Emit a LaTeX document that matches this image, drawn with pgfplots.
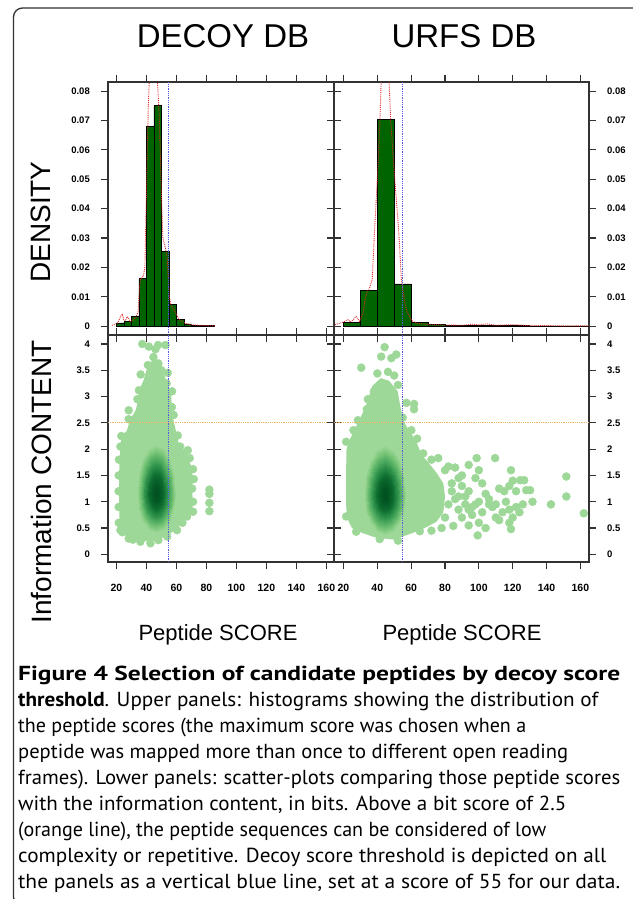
\documentclass[border=0pt]{standalone}
\usepackage{graphicx}
\usepackage{pgfplots}
\pgfplotsset{compat=1.18}
\usepackage{pgfplotstable}
\usepackage{fontspec}
\setmainfont{Liberation Sans}
\newfontfamily\capfont{PT Sans}

\definecolor{bar}{RGB}{0,100,0}
\definecolor{pt}{RGB}{158,216,152}
\definecolor{thr}{RGB}{90,90,225}
\definecolor{ic}{RGB}{240,180,100}
\definecolor{dens}{RGB}{225,40,40}
\definecolor{frame}{RGB}{50,50,50}

% density core of the scatter panels: rings of an ellipse (u, v) with relative density w
\pgfplotstableread{
u v w
0 0 1
0 0 1
0 0 1
0 0 1
0 0 1
0 0 1
0 0 1
0 0 1
0 0 1
0 0 1
0 0 1
0 0 1
0 0 1
0 0 1
0 0 1
0 0 1
0 0 1
0.2 0 0.95
0.185 0.077 0.95
0.141 0.141 0.95
0.077 0.185 0.95
0 0.2 0.95
-0.077 0.185 0.95
-0.141 0.141 0.95
-0.185 0.077 0.95
-0.2 0 0.95
-0.185 -0.077 0.95
-0.141 -0.141 0.95
-0.077 -0.185 0.95
0 -0.2 0.95
0.077 -0.185 0.95
0.141 -0.141 0.95
0.185 -0.077 0.95
0.2 0 0.95
0.4 0 0.85
0.370 0.153 0.85
0.283 0.283 0.85
0.153 0.370 0.85
0 0.4 0.85
-0.153 0.370 0.85
-0.283 0.283 0.85
-0.370 0.153 0.85
-0.4 0 0.85
-0.370 -0.153 0.85
-0.283 -0.283 0.85
-0.153 -0.370 0.85
0 -0.4 0.85
0.153 -0.370 0.85
0.283 -0.283 0.85
0.370 -0.153 0.85
0.4 0 0.85
0.6 0 0.62
0.554 0.230 0.62
0.424 0.424 0.62
0.230 0.554 0.62
0 0.6 0.62
-0.230 0.554 0.62
-0.424 0.424 0.62
-0.554 0.230 0.62
-0.6 0 0.62
-0.554 -0.230 0.62
-0.424 -0.424 0.62
-0.230 -0.554 0.62
0 -0.6 0.62
0.230 -0.554 0.62
0.424 -0.424 0.62
0.554 -0.230 0.62
0.6 0 0.62
0.8 0 0.33
0.739 0.306 0.33
0.566 0.566 0.33
0.306 0.739 0.33
0 0.8 0.33
-0.306 0.739 0.33
-0.566 0.566 0.33
-0.739 0.306 0.33
-0.8 0 0.33
-0.739 -0.306 0.33
-0.566 -0.566 0.33
-0.306 -0.739 0.33
0 -0.8 0.33
0.306 -0.739 0.33
0.566 -0.566 0.33
0.739 -0.306 0.33
0.8 0 0.33
1 0 0
0.924 0.383 0
0.707 0.707 0
0.383 0.924 0
0 1 0
-0.383 0.924 0
-0.707 0.707 0
-0.924 0.383 0
-1 0 0
-0.924 -0.383 0
-0.707 -0.707 0
-0.383 -0.924 0
0 -1 0
0.383 -0.924 0
0.707 -0.707 0
0.924 -0.383 0
1 0 0
}\coretab

\pgfplotsset{
  box/.style={scale only axis, xmin=14.4, xmax=165.1, clip=true},
  panel/.style={box,
    axis line style={frame, line width=1.1pt},
    tick align=outside, major tick length=7pt,
    every tick/.style={frame, line width=1.1pt},
    xtick={20,40,60,80,100,120,140,160},
    xticklabel style={font=\fontsize{10.5}{10.5}\selectfont\bfseries, inner sep=0pt},
    yticklabel style={font=\fontsize{9.5}{9.5}\selectfont\bfseries, inner sep=0pt},
    xticklabel shift=15pt, yticklabel shift=11pt,
    scaled ticks=false,
  },
  toprow/.style={panel, ymin=-0.003, ymax=0.0831, height=253pt,
    ytick={0,0.01,0.02,0.03,0.04,0.05,0.06,0.07,0.08},
    yticklabels={0,0.01,0.02,0.03,0.04,0.05,0.06,0.07,0.08},
    xticklabels={}},
  lowbox/.style={box, ymin=-0.146, ymax=4.171, height=227pt},
  lowrow/.style={panel, lowbox,
    ytick={0,0.5,1,1.5,2,2.5,3,3.5,4},
    yticklabels={0,0.5,1,1.5,2,2.5,3,3.5,4},
    xticklabels={20,40,60,80,100,120,140,160}},
  core/.style={lowbox, hide axis, view={0}{90},
    colormap={greens}{rgb255(0cm)=(158,216,152); rgb255(2.5cm)=(118,196,118);
      rgb255(5cm)=(72,167,92); rgb255(7.5cm)=(30,130,62);
      rgb255(9cm)=(8,100,42); rgb255(10cm)=(0,78,30)},
    point meta min=0, point meta max=1},
}

\begin{document}
\begin{tikzpicture}
\useasboundingbox (0,0) rectangle (632pt,-899pt);
\fill[white] (0,0) rectangle (632pt,-899pt);
\draw[frame, line width=1.3pt, rounded corners=9pt] (13.5pt,-8pt) rectangle (660pt,-906pt);

% ---------- upper left: DECOY histogram
\begin{axis}[toprow, at={(108pt,-82pt)}, anchor=north west, width=226pt]
\addplot[ybar interval, fill=bar, draw=black, line width=0.6pt] coordinates {
(20,0.0011) (25,0.0016) (30,0.0033) (35,0.0162) (40,0.0679) (45,0.0751)
(50,0.0254) (55,0.0073) (60,0.0022) (65,0.0008) (70,0.0003) (75,0.0002)
(80,0.0002) (85,0)};
\addplot[dens, densely dotted, line width=0.9pt] coordinates {
(17,0.0003) (19,0.0006) (21,0.0012) (23,0.0035) (24,0.004) (25,0.002) (26,0.0018)
(27,0.0032) (28,0.003) (29,0.0015) (31,0.002) (33,0.003) (34.5,0.005) (35.3,0.012)
(36,0.016) (38,0.017) (39,0.02) (39.8,0.04) (40.6,0.06) (41.3,0.075) (42,0.085)
(44.5,0.1) (47.2,0.085) (48.5,0.072) (49.5,0.055) (50.3,0.04) (51,0.03) (52.5,0.027)
(53.7,0.024) (54.5,0.017) (55.3,0.01) (56.5,0.007) (58,0.006) (60,0.004) (62,0.0022)
(64,0.0015) (66,0.001) (70,0.0005) (75,0.0003) (80,0.0002) (86,0.0001)};
\addplot[thr, densely dotted, line width=0.8pt] coordinates {(55,-0.003) (55,0.0831)};
\end{axis}

% ---------- upper right: URFS histogram
\begin{axis}[toprow, at={(334pt,-82pt)}, anchor=north west, width=255pt, yticklabel pos=right]
\addplot[ybar interval, fill=bar, draw=black, line width=0.6pt] coordinates {
(20,0.0014) (30,0.0121) (40,0.0704) (50,0.0144) (60,0.0014) (70,0.0006)
(80,0.0003) (90,0.0003) (100,0.0004) (110,0.0002) (120,0.0002) (130,0.0001)
(140,0.0001) (150,0.0001) (160,0.0001) (170,0)};
\addplot[dens, densely dotted, line width=0.9pt] coordinates {
(15,0.0005) (20,0.0014) (22.6,0.0022) (24,0.0015) (25.5,0.002) (27.5,0.0033)
(29.5,0.0016) (31.5,0.0044) (33.4,0.011) (35.4,0.013) (37,0.016) (38.4,0.033)
(40,0.05) (41.4,0.067) (42.3,0.084) (44.5,0.1) (46.9,0.084) (47.9,0.07) (50.3,0.05)
(52.6,0.033) (54.2,0.016) (56.2,0.008) (57.6,0.005) (60.1,0.002) (63.1,0.001)
(71,0.0005) (80,0.0004) (90,0.0003) (96.7,0.0007) (100,0.0004) (104.6,0.0008)
(110,0.0003) (120.5,0.0005) (130,0.0002) (140,0.0002) (150,0.0001) (165,0.0001)};
\addplot[thr, densely dotted, line width=0.8pt] coordinates {(55,-0.003) (55,0.0831)};
\end{axis}

% ---------- lower left: DECOY scatter
\begin{axis}[lowbox, hide axis, at={(108pt,-335pt)}, anchor=north west, width=226pt]
\addplot[fill=pt, draw=none] coordinates {
(40,3.5) (44.5,3.72) (48.5,3.6) (52,3.4) (54,3.25) (56.5,3.05) (57,2.75) (58,2.55)
(60.5,2.25) (62,2.05) (67,1.95) (68.5,1.8) (70.5,1.6) (71,1.4) (70.5,1.2) (71,1.0)
(70.5,0.8) (67,0.72) (64,0.6) (60,0.48) (54,0.36) (48,0.28) (43,0.24) (36,0.26)
(31,0.3) (27,0.33) (23,0.46) (22,0.7) (21.8,1.0) (21.8,1.4) (22,1.8) (22.8,2.05)
(23.5,2.25) (27,2.35) (29,2.55) (33,2.75) (34.5,2.95) (35.5,3.15) (38,3.3)};
\addplot[only marks, mark=*, mark size=4pt, color=pt] coordinates {
(37.3,4.0) (41.6,3.95) (47.8,3.98) (52.7,3.98) (44.7,3.75) (48,3.63) (36.2,3.42)
(54.2,3.45) (53.5,3.25) (35,3.12) (34,2.95) (57.1,3.1) (57,2.8) (28.2,2.74)
(28.2,2.57) (58.2,2.65) (23.3,2.25) (60.9,2.26) (22.7,2.05) (62.5,2.05) (67.6,1.98)
(68.9,1.83) (71.1,1.62) (71.6,1.43) (70.5,1.25) (71.1,1.0) (71.1,0.81) (67.1,0.72)
(64,0.6) (60.4,0.46) (53.8,0.34) (48,0.27) (42.7,0.21) (36,0.24) (31,0.28) (28.2,0.3)
(24,0.42) (22.7,0.46) (21.6,0.6) (21.5,0.9) (21.5,1.2) (21.5,1.5) (21.7,1.8)
(82,1.23) (82,1.15) (82,0.98) (82,0.82) (41,3.6) (50,3.5) (46,3.9)};
\end{axis}
\begin{axis}[core, at={(108pt,-335pt)}, anchor=north west, width=226pt]
\addplot3[surf, shader=interp, mesh/rows=6, mesh/cols=17]
  table[x expr={46.5+13*\thisrow{u}}, y expr={1.15+\thisrow{v}*(\thisrow{v}>0 ? 0.95 : 0.75)}, z=w] {\coretab};
\end{axis}
\begin{axis}[lowrow, at={(108pt,-335pt)}, anchor=north west, width=226pt]
\addplot[ic, densely dotted, line width=0.8pt] coordinates {(14.4,2.5) (165.1,2.5)};
\addplot[thr, densely dotted, line width=0.8pt] coordinates {(55,-0.146) (55,4.171)};
\end{axis}

% ---------- lower right: URFS scatter
\begin{axis}[lowbox, hide axis, at={(334pt,-335pt)}, anchor=north west, width=255pt]
\addplot[fill=pt, draw=none] coordinates {
(37,3.2) (42,3.35) (47,3.3) (52,3.1) (54,2.75) (56,2.5) (60,2.3) (63,2.15) (66,1.9)
(70,1.75) (75,1.55) (79,1.35) (80,1.1) (79,0.8) (75,0.62) (68,0.5) (62,0.42)
(56,0.35) (50,0.28) (44,0.3) (38,0.33) (30,0.42) (25,0.5) (22,0.7) (21.5,1.0)
(21.5,1.5) (21.8,2.0) (24,2.2) (27,2.4) (30,2.6) (33,2.8) (35,3.0)};
\addplot[only marks, mark=*, mark size=4pt, color=pt] coordinates {
(44.3,3.94) (42.3,3.76) (48.3,3.73) (51.2,3.8) (30.5,3.55) (40,3.44) (46.3,3.47)
(52.2,3.22) (34.4,2.95) (33.8,2.76) (57.2,2.88) (61.7,2.86) (61.7,2.76) (28.5,2.55)
(25.9,2.36) (60.1,2.36) (63.5,2.2) (21.6,2.14) (67.1,1.92) (72,1.8) (76,1.83)
(21.6,0.72) (27.5,0.43) (41.4,0.29) (52.2,0.26) (65.1,0.44) (72,0.45) (78,0.5)
(55,2.6) (50,3.4) (38,3.1)
(80,1.6) (82,1.67) (86,1.65) (88,1.45) (84,1.35) (90,1.3) (92,1.1) (86,1.05)
(82,0.95) (88,0.85) (90,0.7) (84.9,0.54) (94,0.55) (96,0.75) (98,0.95) (94,1.2)
(98,1.45) (98.7,1.83) (94,1.7) (100,1.6) (102,1.35) (104,1.15) (100,1.0) (102,0.8)
(100,0.6) (99.3,0.36) (106,0.95) (108,0.9) (110,0.95) (109.6,1.83) (112,1.25)
(115,1.2) (118,1.3) (119,1.6) (120,1.4) (122,1.2) (124.4,1.41) (126.8,1.41)
(128,1.22) (130.3,1.22) (131.7,1.0) (126,0.95) (122,0.9) (118,0.85) (120,0.7)
(118,0.6) (119,0.48) (114,0.8) (112,0.65) (110,0.7) (104,0.5) (96,0.9) (92,0.95)
(142.6,0.95) (151.7,1.48) (151.7,1.1) (162,0.78) (90,1.5) (84,1.2) (88,1.1)
(80,0.7) (94,0.85) (106,1.05) (124,0.8) (116,1.0)};
\end{axis}
\begin{axis}[core, at={(334pt,-335pt)}, anchor=north west, width=255pt]
\addplot3[surf, shader=interp, mesh/rows=6, mesh/cols=17]
  table[x expr={44.5+12.5*\thisrow{u}}, y expr={1.12+\thisrow{v}*(\thisrow{v}>0 ? 0.95 : 0.75)}, z=w] {\coretab};
\end{axis}
\begin{axis}[lowrow, at={(334pt,-335pt)}, anchor=north west, width=255pt, yticklabel pos=right]
\addplot[ic, densely dotted, line width=0.8pt] coordinates {(14.4,2.5) (165.1,2.5)};
\addplot[thr, densely dotted, line width=0.8pt] coordinates {(55,-0.146) (55,4.171)};
\end{axis}

% ---------- titles and axis labels
\node[anchor=base, font=\fontsize{33}{33}\selectfont] at (223pt,-48pt) {DECOY DB};
\node[anchor=base, font=\fontsize{33}{33}\selectfont] at (464pt,-48pt) {URFS DB};
\node[rotate=90, font=\fontsize{28}{28}\selectfont] at (41pt,-222pt) {DENSITY};
\node[rotate=90, font=\fontsize{28}{28}\selectfont] at (41pt,-482pt) {Information CONTENT};
\node[anchor=base, font=\fontsize{22}{22}\selectfont] at (218pt,-640pt) {Peptide SCORE};
\node[anchor=base, font=\fontsize{22}{22}\selectfont] at (462pt,-640pt) {Peptide SCORE};

% ---------- caption
\begin{scope}[every node/.style={anchor=base west, inner sep=0pt, font=\capfont\fontsize{20.3}{26}\selectfont}]
\node at (18pt,-680pt) {\resizebox{602pt}{\height}{\bfseries Figure 4 Selection of candidate peptides by decoy score}};
\node at (18pt,-706.1pt) {\resizebox{580pt}{\height}{\textbf{threshold}. Upper panels: histograms showing the distribution of}};
\node at (18pt,-732.2pt) {\resizebox{508pt}{\height}{the peptide scores (the maximum score was chosen when a}};
\node at (18pt,-758.3pt) {\resizebox{550pt}{\height}{peptide was mapped more than once to different open reading}};
\node at (18pt,-784.4pt) {\resizebox{602pt}{\height}{frames). Lower panels: scatter-plots comparing those peptide scores}};
\node at (18pt,-810.5pt) {\resizebox{548pt}{\height}{with the information content, in bits. Above a bit score of 2.5}};
\node at (18pt,-836.6pt) {\resizebox{528pt}{\height}{(orange line), the peptide sequences can be considered of low}};
\node at (18pt,-862.7pt) {\resizebox{588pt}{\height}{complexity or repetitive. Decoy score threshold is depicted on all}};
\node at (18pt,-888.8pt) {\resizebox{602pt}{\height}{the panels as a vertical blue line, set at a score of 55 for our data.}};
\end{scope}
\end{tikzpicture}
\end{document}
